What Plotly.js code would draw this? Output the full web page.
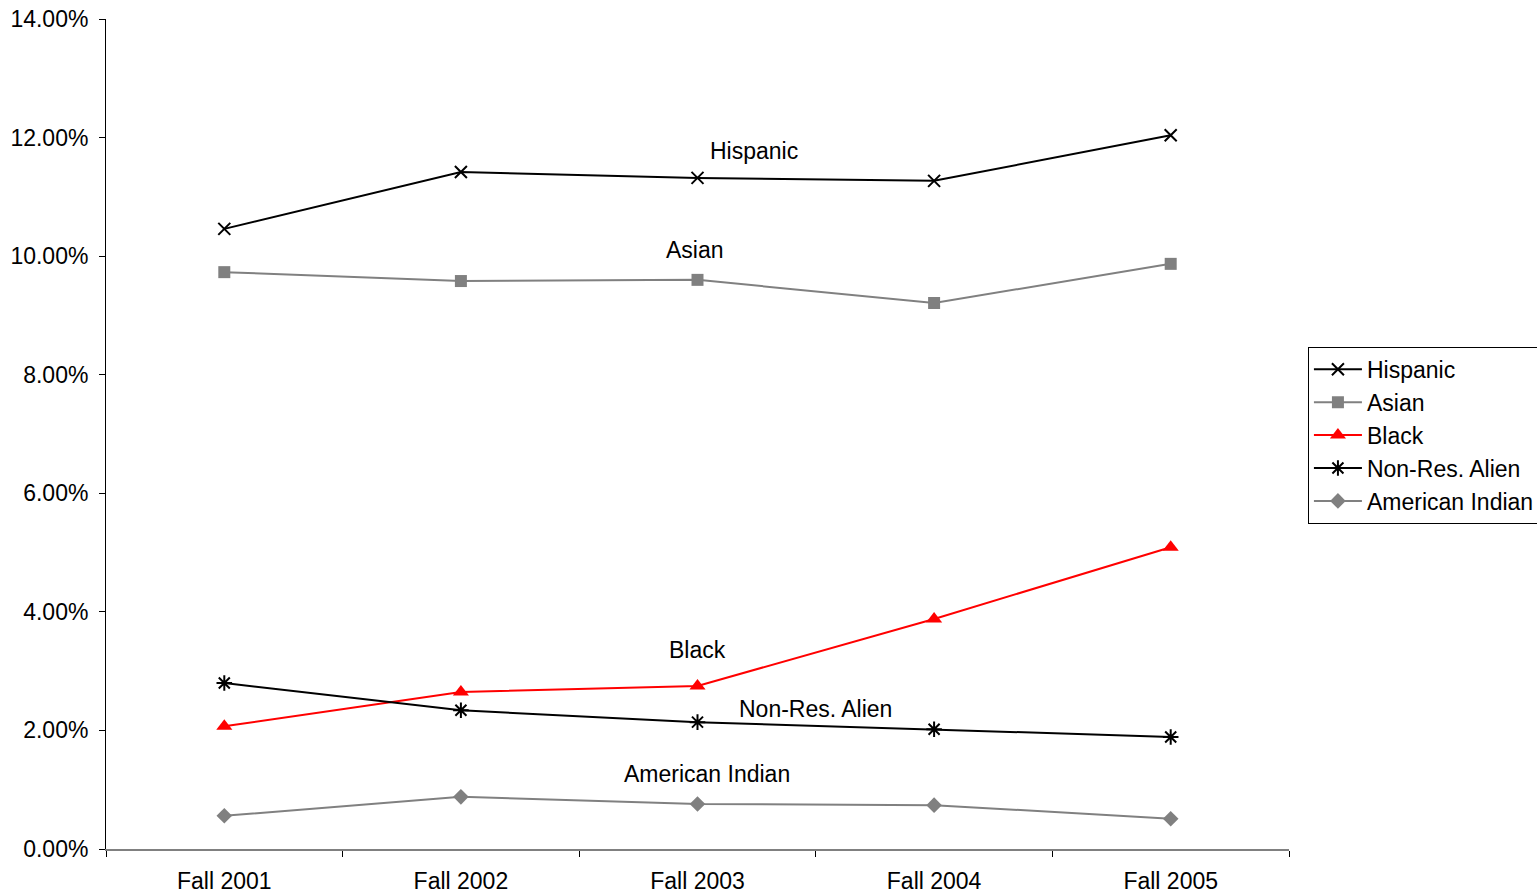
<!DOCTYPE html>
<html><head><meta charset="utf-8">
<script src="https://cdn.plot.ly/plotly-3.0.1.min.js"></script>
<style>html,body{margin:0;padding:0;background:#fff}#chart{width:1537px;height:896px}</style>
</head><body><div id="chart"></div>
<script>
const categories = ["Fall 2001","Fall 2002","Fall 2003","Fall 2004","Fall 2005"];
const hispanic = [10.46, 11.42, 11.32, 11.27, 12.04];
const asian = [9.73, 9.58, 9.60, 9.21, 9.87];
const black = [2.07, 2.65, 2.75, 3.88, 5.09];
const nonResAlien = [2.80, 2.34, 2.14, 2.02, 1.89];
const americanIndian = [0.56, 0.88, 0.76, 0.74, 0.51];
const yTickVals = [0,2,4,6,8,10,12,14];
const yTickText = ["0.00%","2.00%","4.00%","6.00%","8.00%","10.00%","12.00%","14.00%"];

const F = "Arial, 'Liberation Sans', sans-serif";
const FS = 23;
function tr(name, y, color, symbol, size, open){
  return {type:'scatter', mode:'lines+markers', name:name, x:categories, y:y,
    line:{color:color, width:2},
    marker:{symbol:symbol, size:size, color:color, line:{color:color, width: open?2:0}}};
}
const data = [
  tr('Hispanic', hispanic, '#000000', 'x-thin-open', 12, true),
  tr('Asian', asian, '#808080', 'square', 12, false),
  tr('Black', black, '#ff0000', 'triangle-up', 14, false),
  tr('Non-Res. Alien', nonResAlien, '#000000', 'asterisk-open', 13, true),
  tr('American Indian', americanIndian, '#808080', 'diamond', 12, false)
];
const labels = [
  {text:'Hispanic', x:2.24, y:hispanic[2]+0.45},
  {text:'Asian', x:1.99, y:asian[2]+0.5},
  {text:'Black', x:2.0, y:black[2]+0.6},
  {text:'Non-Res. Alien', x:2.5, y:nonResAlien[2]+0.22},
  {text:'American Indian', x:2.04, y:americanIndian[2]+0.5}
];
const layout = {
  width:1537, height:896,
  margin:{l:106, r:248, t:19, b:47, autoexpand:false},
  paper_bgcolor:'#fff', plot_bgcolor:'#fff',
  font:{family:F, size:FS, color:'#000'},
  showlegend:true,
  legend:{x:1.016, xanchor:'left', y:0.605, yanchor:'top', bordercolor:'#000', borderwidth:1,
    font:{family:F, size:FS, color:'#000'}, bgcolor:'#fff', tracegroupgap:0, itemwidth:48},
  xaxis:{type:'category', range:[-0.5,4.5], showgrid:false, zeroline:false,
    showline:true, linecolor:'#808080', linewidth:2, ticks:'outside', tickson:'boundaries',
    ticklen:6, tickcolor:'#000', tickwidth:1, tickfont:{family:F, size:FS, color:'#000'},
    ticklabelstandoff:10},
  yaxis:{range:[0,14], tickvals:yTickVals, ticktext:yTickText, showgrid:false, zeroline:false,
    showline:true, linecolor:'#000', linewidth:1, ticks:'outside', ticklen:6, tickcolor:'#000',
    tickfont:{family:F, size:FS, color:'#000'}, ticklabelstandoff:6},
  annotations: labels.map(a=>({x:a.x, y:a.y, xref:'x', yref:'y', text:a.text, showarrow:false,
    font:{family:F, size:FS, color:'#000'}}))
};
Plotly.newPlot('chart', data, layout, {displayModeBar:false, staticPlot:true});
</script></body></html>
